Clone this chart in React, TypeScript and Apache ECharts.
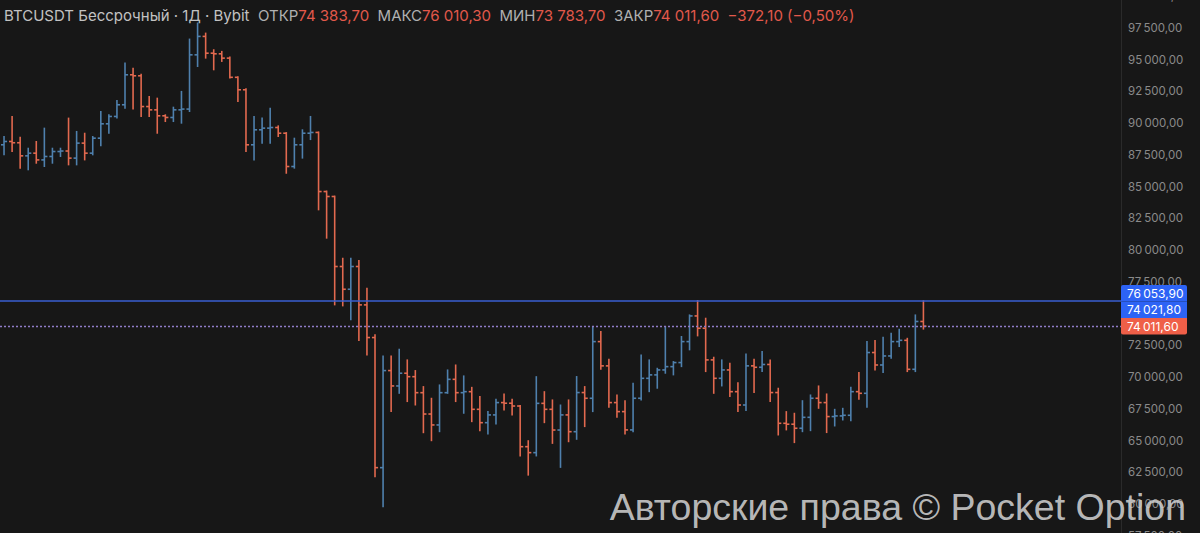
import React, { useEffect, useRef } from 'react';
import * as echarts from 'echarts';

// ---- data (daily OHLC, BTCUSDT perpetual, Bybit) ----
const opens = [
  88290, 88550, 88450, 87420, 87630, 87100, 87370, 87760, 87800, 87240,
  88420, 87630, 88810, 89940, 90520, 91440, 93800, 93720, 91300, 91040,
  90570, 90440, 91040, 91100, 95370, 96820, 95500, 95450, 95110, 93600,
  92620, 88290, 89470, 89600, 89650, 89200, 86580, 88290, 89200, 89260,
  84610, 84220, 78710, 76920, 78710, 75690, 73120, 62880, 70520, 69310,
  70310, 70040, 68780, 67100, 66240, 68780, 69830, 68780, 68860, 67470,
  66420, 67030, 68000, 67950, 67730, 64530, 64060, 67940, 67470, 65840,
  67030, 65710, 68790, 68340, 72800, 70890, 68000, 67290, 65850, 68340,
  69910, 70180, 70570, 70830, 71150, 72800, 74820, 73850, 71360, 69910,
  70570, 68860, 67810, 70890, 70780, 71000, 68790, 66370, 66300, 65980,
  66840, 68340, 68000, 66900, 66950, 67000, 68860, 68730, 71940, 70960,
  71670, 72800, 72900, 70620, 74383.7,
];
const highs = [
  88940, 90520, 88890, 88020, 88550, 89600, 88020, 88020, 90390, 89340,
  89200, 88940, 90910, 90650, 91780, 94720, 94320, 93850, 92090, 91960,
  90650, 91250, 92490, 96610, 97870, 97080, 95770, 95640, 95190, 93650,
  92700, 90520, 90390, 91170, 89780, 89250, 88810, 89470, 90520, 89300,
  84650, 84250, 79360, 79360, 79180, 77000, 73330, 71670, 71670, 72200,
  71360, 70520, 69260, 68340, 69390, 70570, 70960, 70100, 69200, 68470,
  67290, 68260, 68680, 68260, 67780, 65000, 70040, 68860, 68210, 67810,
  68210, 70050, 69260, 73980, 73590, 71410, 68600, 68150, 69520, 71750,
  71360, 70700, 73980, 71230, 73200, 74900, 76030, 74640, 71570, 71360,
  71100, 69570, 71830, 71410, 72020, 71360, 69130, 67290, 67160, 68150,
  68600, 69310, 68680, 67470, 67550, 69210, 70360, 72800, 72880, 73140,
  73460, 73770, 73060, 74900, 76010.3,
];
const lows = [
  87500, 87760, 86450, 86320, 86840, 86580, 86840, 87370, 86710, 86710,
  87100, 87500, 88210, 89200, 90390, 91170, 91100, 90520, 90520, 89200,
  90120, 90120, 89990, 90910, 94450, 95110, 94190, 94850, 93540, 91700,
  87760, 87100, 88420, 88420, 88940, 86050, 86450, 87240, 88700, 83170,
  80940, 75690, 75610, 74510, 72880, 71750, 62170, 59810, 67290, 68730,
  68080, 67810, 65630, 65000, 65710, 68730, 68080, 67160, 66500, 65790,
  65530, 66320, 67420, 67030, 63800, 62290, 63800, 66420, 64790, 62900,
  64920, 65110, 66110, 67290, 70620, 67630, 66840, 65530, 65710, 68200,
  68860, 69130, 70310, 70180, 70830, 72150, 73250, 70440, 68730, 69310,
  68470, 67290, 67370, 68790, 70440, 68080, 65450, 65850, 64850, 65710,
  65790, 67550, 65640, 66160, 66630, 66580, 68260, 67630, 70570, 70360,
  71490, 72410, 70440, 70440, 73783.7,
];
const closes = [
  88550, 88450, 87420, 87630, 87100, 87370, 87760, 87800, 87240, 88420,
  87630, 88810, 89940, 90520, 91440, 93800, 93720, 91300, 91040, 90570,
  90440, 91040, 91100, 95370, 96820, 95500, 95450, 95110, 93600, 92620,
  88290, 89470, 89600, 89650, 89200, 86580, 88290, 89200, 89260, 84610,
  84220, 78710, 76920, 78710, 75690, 73120, 62880, 70520, 69310, 70310,
  70040, 68780, 67100, 66240, 68780, 69830, 68780, 68860, 67470, 66420,
  67030, 68000, 67950, 67730, 64530, 64060, 67940, 67470, 65840, 67030,
  65710, 68790, 68340, 72800, 70890, 68000, 67290, 65850, 68340, 69910,
  70180, 70570, 70830, 71150, 72800, 74820, 73850, 71360, 69910, 70570,
  68860, 67810, 70890, 70780, 71000, 68790, 66370, 66300, 65980, 66840,
  68340, 68000, 66900, 66950, 67000, 68860, 68730, 71940, 70960, 71670,
  72800, 72900, 70620, 74383.7, 74011.6,
];
const firstDate = '2025-12-21';
const visibleSlots = 139; // bars plus empty space on the right
const yMin = 57500;
const yMax = 100000;
const yStep = 2500;
const bluePrice = 76053.9;
const midPrice = 74021.8;
const lastPrice = 74011.6;
const headerTitle = 'BTCUSDT Бессрочный · 1Д · Bybit';
const headerItems = [
  ['ОТКР', '74 383,70'],
  ['МАКС', '76 010,30'],
  ['МИН', '73 783,70'],
  ['ЗАКР', '74 011,60'],
];
const headerChange = '−372,10 (−0,50%)';
const watermark = 'Авторские права © Pocket Option';

// ---- styles ----
const BG = '#171717';
const UP = '#4f80ad';
const DOWN = '#e2694f';
const AXIS_TXT = '#8a8a8a';
const FONT = 'Inter, "Noto Sans", sans-serif';

function buildCategories(): string[] {
  const out: string[] = [];
  const d = new Date(firstDate + 'T00:00:00Z');
  for (let i = 0; i < visibleSlots; i++) {
    if (i < opens.length) {
      const x = new Date(d.getTime() + i * 86400000);
      out.push(x.toISOString().slice(0, 10));
    } else {
      out.push('');
    }
  }
  return out;
}

function fmtPrice(v: number, dec = 2): string {
  const fixed = v.toFixed(dec);
  const [intPart, frac] = fixed.split('.');
  const th = intPart.slice(0, -3);
  const rest = intPart.slice(-3);
  return (th ? th + '\u202F' : '') + rest + ',' + frac;
}

export default function App() {
  const ref = useRef<HTMLDivElement>(null);

  useEffect(() => {
    if (!ref.current) return;
    const chart = echarts.init(ref.current, null, { renderer: 'svg' });
    const data = opens.map((o, i) => [i, o, highs[i], lows[i], closes[i]]);

    chart.setOption({
      animation: false,
      backgroundColor: BG,
      grid: { left: 0, right: 79, top: -4, bottom: -3, outerBoundsMode: 'none', containLabel: false },
      xAxis: {
        type: 'category',
        data: buildCategories(),
        boundaryGap: true,
        show: false,
      },
      yAxis: {
        type: 'value',
        position: 'right',
        min: yMin,
        max: yMax,
        interval: yStep,
        axisLine: { show: true, lineStyle: { color: '#2a2a2a', width: 1 } },
        axisTick: { show: false },
        splitLine: { show: false },
        axisLabel: {
          show: true,
          showMaxLabel: true,
          showMinLabel: true,
          color: AXIS_TXT,
          fontSize: 11.5,
          fontFamily: FONT,
          margin: 7,
          formatter: (v: number) => fmtPrice(v),
        },
      },
      series: [
        {
          type: 'custom',
          data,
          encode: { x: 0, y: [1, 2, 3, 4] },
          clip: true,
          renderItem: (params: any, api: any) => {
            const i = api.value(0);
            const o = api.value(1);
            const h = api.value(2);
            const l = api.value(3);
            const c = api.value(4);
            const pH = api.coord([i, h]);
            const pL = api.coord([i, l]);
            const pO = api.coord([i, o]);
            const pC = api.coord([i, c]);
            const w = api.size([1, 0])[0];
            const t = Math.max(2, w * 0.38);
            const color = c >= o ? UP : DOWN;
            const x = pH[0];
            const style = { stroke: color, lineWidth: 1.6, fill: null };
            return {
              type: 'group',
              children: [
                { type: 'line', shape: { x1: x, y1: pH[1] - 0.5, x2: x, y2: pL[1] + 0.5 }, style },
                { type: 'line', shape: { x1: x - t, y1: pO[1], x2: x, y2: pO[1] }, style },
                { type: 'line', shape: { x1: x, y1: pC[1], x2: x + t, y2: pC[1] }, style },
              ],
            };
          },
          markLine: {
            silent: true,
            symbol: 'none',
            label: { show: false },
            data: [
              { yAxis: bluePrice, lineStyle: { color: '#3a5fd2', width: 1.5, type: 'solid' } },
              { yAxis: lastPrice, lineStyle: { color: '#8f7cc8', width: 1.3, type: [2, 2] } },
            ],
          },
          z: 2,
        },
      ],
    });

    const yLast = chart.convertToPixel({ yAxisIndex: 0 }, lastPrice) as number;
    const boxH = 16.5;
    const boxX = 1121;
    const boxW = 66;
    const boxes = [
      { v: lastPrice, color: '#ef5f48', cy: yLast },
      { v: midPrice, color: '#2d63f5', cy: yLast - boxH },
      { v: bluePrice, color: '#2d63f5', cy: yLast - boxH * 2 },
    ];
    const graphics: any[] = [];
    boxes.forEach((b, k) => {
      graphics.push({
        type: 'rect',
        shape: { x: boxX, y: b.cy - boxH / 2, width: boxW, height: boxH, r: k === 0 ? [0, 0, 2, 2] : k === 2 ? [2, 2, 0, 0] : 0 },
        style: { fill: b.color },
        z: 10,
      });
      graphics.push({
        type: 'text',
        x: boxX + 6,
        y: b.cy,
        style: {
          text: fmtPrice(b.v),
          fill: '#ffffff',
          fontSize: 12,
          fontFamily: FONT,
          verticalAlign: 'middle',
          align: 'left',
        },
        z: 11,
      });
    });

    let rich = `{t|${headerTitle}}`;
    headerItems.forEach(([lab, val], k) => {
      rich += '{g|  }' + `{l|${lab}}{v|${val}}`;
    });
    rich += `{g|  }{v|${headerChange}}`;
    const HF = 15;
    graphics.push({
      type: 'text',
      x: 4,
      y: 15,
      style: {
        text: rich,
        verticalAlign: 'middle',
        align: 'left',
        fontSize: HF,
        fontFamily: FONT,
        rich: {
          t: { fill: '#c2c2c2', fontSize: HF, fontFamily: FONT },
          g: { fill: '#c2c2c2', fontSize: HF, fontFamily: FONT },
          l: { fill: '#b0b0b0', fontSize: HF, fontFamily: FONT },
          v: { fill: '#e2594b', fontSize: HF, fontFamily: FONT },
        },
      },
      z: 12,
    });

    graphics.push({
      type: 'text',
      x: 1186,
      y: 507,
      style: {
        text: watermark,
        fill: 'rgba(205,205,205,0.9)',
        fontSize: 37.5,
        fontFamily: '"Liberation Sans", Arial, sans-serif',
        align: 'right',
        verticalAlign: 'middle',
      },
      z: 20,
    });

    chart.setOption({ graphic: graphics });

    return () => {
      chart.dispose();
    };
  }, []);

  return (
    <div
      ref={ref}
      style={{ position: 'fixed', left: 0, top: 0, width: 1200, height: 533, background: BG }}
    />
  );
}
